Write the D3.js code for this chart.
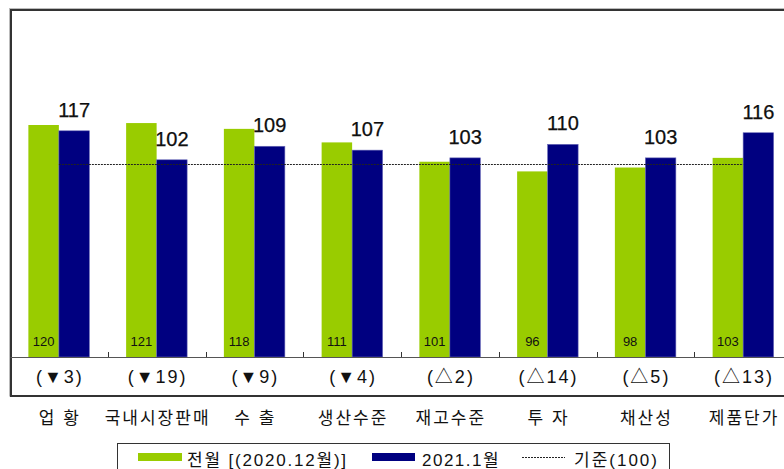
<!DOCTYPE html>
<html>
<head>
<meta charset="utf-8">
<script src="https://cdn.jsdelivr.net/npm/d3@7"></script>
<style>
  html, body { margin: 0; padding: 0; background: #fff; }
  svg { display: block; }
  text { font-family: "Liberation Sans", "Noto Sans CJK KR", sans-serif; fill: #111; }
</style>
</head>
<body>
<div id="chart"></div>
<script>
// data
const categories = ['업 황', '국내시장판매', '수 출', '생산수준', '재고수준', '투 자', '채산성', '제품단가'];
const prevMonth = [120, 121, 118, 111, 101, 96, 98, 103];
const thisMonth = [117, 102, 109, 107, 103, 110, 103, 116];
const changes = ['(▼3)', '(▼19)', '(▼9)', '(▼4)', '(△2)', '(△14)', '(△5)', '(△13)'];
const baseline = 100;
const legendLabels = ['전월 [(2020.12월)]', '2021.1월', '기준(100)'];

const width = 784, height = 469;
const green = '#99cc00', navy = '#000080';

const svg = d3.select('#chart')
	.append('svg')
	.attr('width', width)
	.attr('height', height);

const x = d3.scaleBand()
	.domain(categories)
	.range([10, 792])
	.paddingInner(0)
	.paddingOuter(0);

const y = d3.scaleLinear()
	.domain([0, 180])
	.range([357, 9]);

const barW = 30.5;

// outer frame
svg.append('rect')
	.attr('x', 9.5).attr('y', 8.5)
	.attr('width', 800).attr('height', 387.5)
	.attr('fill', 'none')
	.attr('stroke', '#bbb')
	.attr('stroke-width', 1);
svg.append('rect')
	.attr('x', 11).attr('y', 10)
	.attr('width', 800).attr('height', 386)
	.attr('fill', 'none')
	.attr('stroke', '#333')
	.attr('stroke-width', 2);

const g = svg.append('g');

// bars
const groups = g.selectAll('.grp')
	.data(categories)
	.enter()
	.append('g')
	.attr('class', 'grp')
	.attr('transform', (d) => `translate(${x(d) + x.bandwidth() / 2},0)`);

groups.append('rect')
	.attr('x', -barW)
	.attr('width', barW)
	.attr('y', (d, i) => y(prevMonth[i]))
	.attr('height', (d, i) => y(0) - y(prevMonth[i]))
	.attr('fill', green);

groups.append('rect')
	.attr('x', 0)
	.attr('width', barW)
	.attr('y', (d, i) => y(thisMonth[i]))
	.attr('height', (d, i) => y(0) - y(thisMonth[i]))
	.attr('fill', navy)
	.attr('stroke', '#6a6ab8')
	.attr('stroke-width', 0.6);

// value labels
groups.append('text')
	.attr('x', barW / 2)
	.attr('y', (d, i) => y(thisMonth[i]) - 14)
	.attr('text-anchor', 'middle')
	.attr('font-size', 20)
	.attr('fill', '#000')
	.attr('stroke', '#000')
	.attr('stroke-width', 0.25)
	.text((d, i) => thisMonth[i]);

groups.append('text')
	.attr('x', -barW / 2)
	.attr('y', 346)
	.attr('text-anchor', 'middle')
	.attr('font-size', 13)
	.text((d, i) => prevMonth[i]);

// baseline 100 line
g.append('line')
	.attr('x1', x(categories[0]) + x.bandwidth() / 2)
	.attr('x2', x(categories[categories.length - 1]) + x.bandwidth() / 2)
	.attr('y1', Math.round(y(baseline)) + 0.5)
	.attr('y2', Math.round(y(baseline)) + 0.5)
	.attr('stroke', '#222')
	.attr('stroke-width', 1)
	.attr('stroke-dasharray', '2,1');

// axis
const axis = g.append('g')
	.attr('transform', `translate(0,${y(0)})`)
	.call(d3.axisBottom(x).tickSize(0).tickFormat(''));
axis.select('.domain').attr('stroke', '#555').attr('stroke-width', 1.2);

// tick marks between groups
g.selectAll('.tk')
	.data(categories.slice(1))
	.enter()
	.append('line')
	.attr('x1', (d) => Math.round(x(d)) + 0.5)
	.attr('x2', (d) => Math.round(x(d)) + 0.5)
	.attr('y1', y(0) - 5)
	.attr('y2', y(0))
	.attr('stroke', '#333');

// change row
g.selectAll('.chg')
	.data(categories)
	.enter()
	.append('text')
	.attr('x', (d) => x(d) + x.bandwidth() / 2 + 1)
	.attr('y', 383)
	.attr('text-anchor', 'middle')
	.attr('font-size', 18)
	.attr('letter-spacing', 2)
	.attr('fill', '#222')
	.text((d, i) => changes[i]);

// category labels
g.selectAll('.cat')
	.data(categories)
	.enter()
	.append('text')
	.attr('x', (d) => x(d) + x.bandwidth() / 2 + 1)
	.attr('y', 424)
	.attr('text-anchor', 'middle')
	.attr('font-size', 17)
	.attr('letter-spacing', 2)
	.attr('font-family', '"Noto Sans CJK KR", sans-serif')
	.attr('fill', '#222')
	.text((d) => d);

// legend
const lg = svg.append('g');
lg.append('rect')
	.attr('x', 117.5).attr('y', 443.5)
	.attr('width', 552).attr('height', 40)
	.attr('fill', '#fff')
	.attr('stroke', '#333')
	.attr('stroke-width', 1);

lg.append('rect')
	.attr('x', 138).attr('y', 453)
	.attr('width', 44).attr('height', 8)
	.attr('fill', green);
lg.append('text')
	.attr('x', 187).attr('y', 466)
	.attr('font-size', 17)
	.attr('letter-spacing', 1.8)
	.attr('fill', '#222')
	.text(legendLabels[0]);

lg.append('rect')
	.attr('x', 372).attr('y', 453)
	.attr('width', 43).attr('height', 8)
	.attr('fill', navy);
lg.append('text')
	.attr('x', 422).attr('y', 466)
	.attr('font-size', 17)
	.attr('letter-spacing', 1.5)
	.attr('fill', '#222')
	.text(legendLabels[1]);

lg.append('line')
	.attr('x1', 522).attr('x2', 565)
	.attr('y1', 457.5).attr('y2', 457.5)
	.attr('stroke', '#222')
	.attr('stroke-dasharray', '2,1');
lg.append('text')
	.attr('x', 574).attr('y', 466)
	.attr('font-size', 17)
	.attr('letter-spacing', 2)
	.attr('fill', '#222')
	.text(legendLabels[2]);
</script>
</body>
</html>
